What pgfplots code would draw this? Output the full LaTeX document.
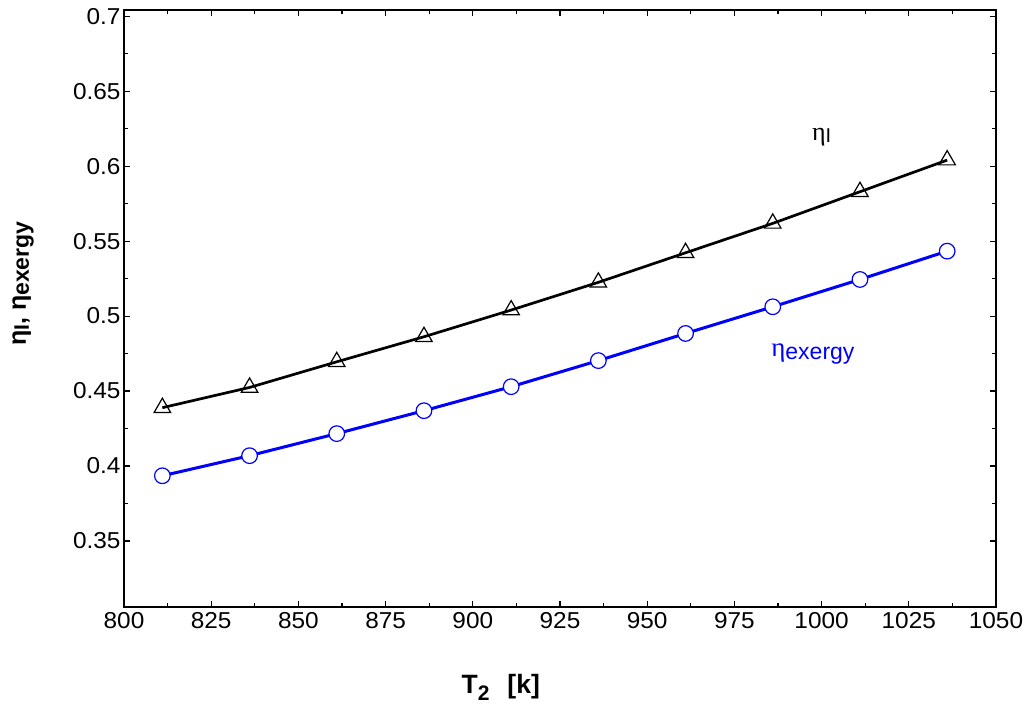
\documentclass[border=0pt]{standalone}
\usepackage{pgfplots}
\pgfplotsset{compat=1.18}
\usepackage{fontspec}
\setmainfont{Liberation Sans}
\newfontfamily\tickfont{Liberation Sans}[FakeStretch=1.06]
\newfontfamily\greekserif{Liberation Serif}
\definecolor{myblue}{RGB}{0,0,255}
\begin{document}
\begin{tikzpicture}
\begin{axis}[
  name=ax,
  at={(0pt,0pt)}, anchor=south west,
  scale only axis,
  width=872pt, height=597pt,
  xmin=800, xmax=1050,
  ymin=0.3062, ymax=0.7043,
  xtick={800,825,...,1050},
  ytick={0.35,0.4,0.45,0.5,0.55,0.6,0.65,0.7},
  minor tick num=1,
  tick align=inside,
  major tick length=6pt,
  minor tick length=4pt,
  axis line style={line width=1.8pt},
  every tick/.style={line width=1.1pt, black},
  tick label style={font=\tickfont\fontsize{23}{26}\selectfont},
  /pgf/number format/assume math mode=true,
  /pgf/number format/1000 sep={},
  yticklabel style={/pgf/number format/fixed, /pgf/number format/precision=2},
  xticklabel style={yshift=-2pt},
  yticklabel style={xshift=0pt},
  xlabel={\bfseries\fontsize{26.5}{30}\selectfont T\raisebox{-7pt}{\fontsize{21}{22}\selectfont 2}\hspace{18pt}[k]},
  xlabel style={at={(axis description cs:0.432,0)}, anchor=center, yshift=-81pt},
  ylabel={\bfseries\fontsize{25}{28}\selectfont η\raisebox{-3pt}{\fontsize{21}{22}\selectfont I}, η\raisebox{-3pt}{\fontsize{23}{24}\selectfont exergy}},
  ylabel style={at={(axis description cs:0,0.541)}, anchor=center, yshift=101pt},
  clip=false,
]
\addplot[black, line width=2.7pt, mark=triangle, mark size=9.5pt, mark options={fill=white, line width=1.2pt, solid}]
coordinates {
(811,0.4389) (836,0.4524) (861,0.4695) (886,0.4862) (911,0.5040)
(936,0.5225) (961,0.5422) (986,0.5618) (1011,0.5829) (1036,0.6040)
};
\addplot[myblue, line width=3pt, mark=*, mark size=7.8pt, mark options={fill=white, draw=myblue, line width=1.2pt, solid}]
coordinates {
(811,0.3935) (836,0.4069) (861,0.4216) (886,0.4369) (911,0.4529)
(936,0.4703) (961,0.4884) (986,0.5062) (1011,0.5244) (1036,0.5433)
};
\node[black] at (axis cs:1000,0.619) {{\greekserif\fontsize{26}{28}\selectfont η}\raisebox{-2pt}{\fontsize{20}{22}\selectfont I}};
\node[myblue] at (axis cs:997.5,0.475) {{\greekserif\fontsize{27}{28}\selectfont η}\raisebox{-3pt}{\fontsize{23}{24}\selectfont exergy}};
\end{axis}
\pgfresetboundingbox
\path[use as bounding box] (ax.south west) ++(-124pt,-104.3pt) rectangle ++(1029pt,711pt);
\end{tikzpicture}
\end{document}
